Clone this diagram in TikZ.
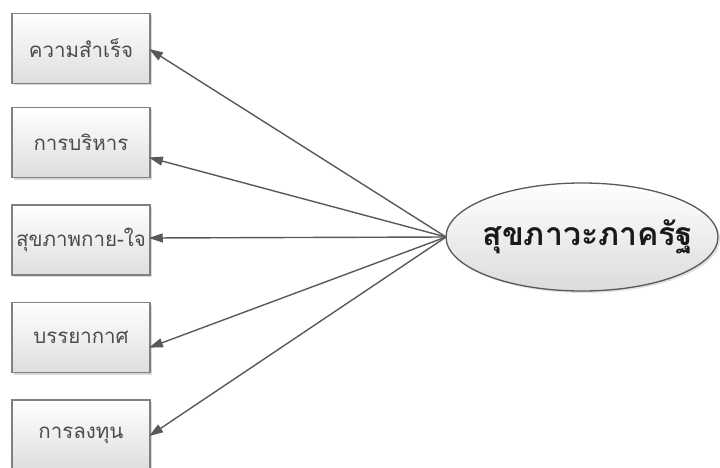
\documentclass[tikz,border=0pt]{standalone}
\usepackage{fontspec}
\newfontfamily\thaifont[Script=Thai]{Loma}
\usetikzlibrary{shapes.geometric,arrows.meta,shadows}
\begin{document}
\begin{tikzpicture}[x=1pt,y=-1pt,
  box/.style={rectangle, minimum width=138pt, minimum height=70pt, inner sep=0pt,
    draw=black!50, line width=1.5pt, top color=white, bottom color=black!13,
    drop shadow={shadow xshift=2pt, shadow yshift=-2pt, opacity=0.25, fill=black!60},
    font=\thaifont\fontsize{20.5}{24}\selectfont, text=black!70},
  latent/.style={ellipse, minimum width=272pt, minimum height=108pt, inner sep=0pt, outer sep=0pt,
    draw=black!65, line width=1.3pt, top color=white, bottom color=black!14,
    drop shadow={shadow xshift=2pt, shadow yshift=-2pt, opacity=0.2, fill=black!60}},
  latenttext/.style={font=\thaifont\bfseries\fontsize{32}{38}\selectfont, text=black!90, inner sep=0pt},
  conn/.style={draw=black!65, line width=1.4pt, -{Triangle[length=14pt,width=9pt]}, shorten >=-2pt}
]
\useasboundingbox (0,0) rectangle (720,468);
\node[box] (b1) at (81,48.5) {ความสำเร็จ};
\node[box] (b2) at (81,142.5) {การบริหาร};
\node[box] (b3) at (81,240) {สุขภาพกาย-ใจ};
\node[box] (b4) at (81,337.5) {บรรยากาศ};
\node[box] (b5) at (81,435) {การลงทุน};
\node[latent] (f) at (582,237) {};
\node[latenttext] (ft) at (588,237) {สุขภาวะภาครัฐ};
\draw[conn] (f.west) -- ([yshift=-1.5pt]b1.east);
\draw[conn] (f.west) -- ([yshift=-15.5pt]b2.east);
\draw[conn] (f.west) -- ([yshift=2pt]b3.east);
\draw[conn] (f.west) -- ([yshift=-9.5pt]b4.east);
\draw[conn] (f.west) -- (b5.east);
\end{tikzpicture}
\end{document}
